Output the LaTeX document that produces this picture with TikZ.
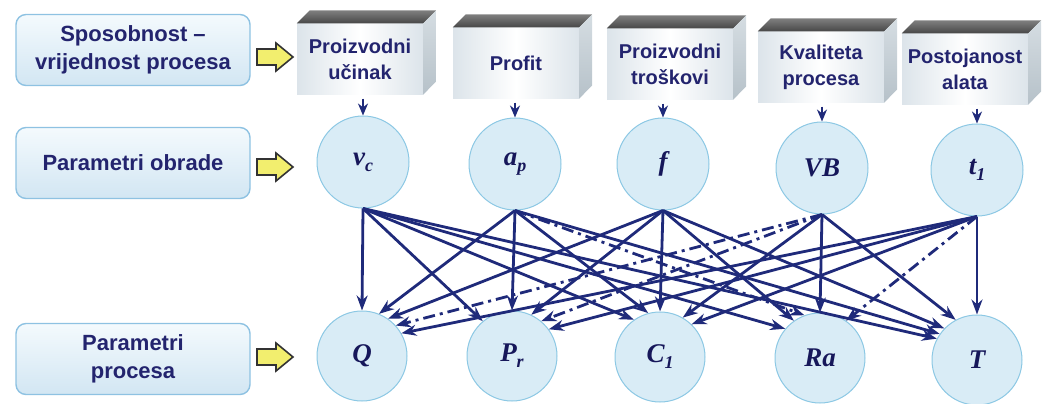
\documentclass[tikz,border=0pt]{standalone}
\usepackage{fontspec}
\setmainfont{Liberation Sans}
\newfontfamily\serifl{Liberation Serif}
\usetikzlibrary{arrows.meta,calc}
\definecolor{navy}{HTML}{1F2A7A}
\definecolor{txt}{HTML}{23246E}
\definecolor{lab}{HTML}{16175A}
\definecolor{cfill}{HTML}{D9ECF6}
\definecolor{cdraw}{HTML}{8CC8E4}
\definecolor{lbtop}{HTML}{F4FAFD}
\definecolor{lbbot}{HTML}{D2E6F3}
\definecolor{lbdraw}{HTML}{8EC2E2}
\definecolor{ylw}{HTML}{F2EE6E}
\definecolor{fedge}{HTML}{DCE4EA}
\definecolor{sidetop}{HTML}{D5DDE2}
\definecolor{sidebot}{HTML}{B6C1C9}
\newcommand\labf{\serifl\bfseries\itshape\fontsize{27}{27}\selectfont}
\newcommand\mysb[1]{\raisebox{-6pt}{\fontsize{18}{18}\selectfont #1}}
\tikzset{
  lbox/.style={rounded corners=10pt, draw=lbdraw, line width=1.4pt, top color=lbtop, bottom color=lbbot,
     minimum width=234pt, minimum height=71pt, align=center, text=txt,
     font=\bfseries\fontsize{22}{28}\selectfont},
  fbox/.style={minimum width=126pt, minimum height=71pt, inner sep=0pt, align=center, text=txt,
     left color=fedge, right color=fedge, middle color=white,
     font=\bfseries\fontsize{20}{26}\selectfont},
  cnode/.style={circle, draw=cdraw, line width=1pt, fill=cfill, inner sep=0pt, minimum size=92pt, text=lab, font=\labf},
  link/.style={draw=navy, line width=2.8pt, -{Stealth[length=15pt,width=11pt]}},
  dlink/.style={link, dash pattern=on 12pt off 5pt on 3pt off 5pt},
  sarrow/.style={draw=navy, line width=2.6pt, -{Stealth[length=12pt,width=10pt]}},
  yarrow/.style={fill=ylw, draw=black!80, line width=1.6pt, line join=miter},
  topface/.style={top color=black!50, bottom color=black!72},
  sideface/.style={top color=sidetop, bottom color=sidebot},
}
\begin{document}
\begin{tikzpicture}[x=1pt,y=-1pt]
\useasboundingbox (0,0) rectangle (1045,404);

% left label boxes
\node[lbox] (L1) at (133,50) {Sposobnost --\\vrijednost procesa};
\node[lbox] (L2) at (133,163) {Parametri obrade};
\node[lbox] (L3) at (133,359) {Parametri\\procesa};

% yellow block arrows
\foreach \yy in {57, 167, 357}{
  \draw[yarrow] (257,\yy-8) -- (276,\yy-8) -- (276,\yy-14) -- (293,\yy) -- (276,\yy+14) -- (276,\yy+8) -- (257,\yy+8) -- cycle;
}

% top 3D boxes
\foreach \nm/\xx/\yy/\tx in {B1/360/59/{Proizvodni\\učinak}, B2/516/63/{Profit}, B3/670/64/{Proizvodni\\troškovi}, B4/821/67/{Kvaliteta\\procesa}, B5/965/69/{Postojanost\\alata}}{
  \node[fbox] (\nm) at (\xx,\yy) {\tx};
  \shade[topface] (\nm.north west) -- ++(13,-13) -- ($(\nm.north east)+(13,-13)$) -- (\nm.north east) -- cycle;
  \shade[sideface] (\nm.north east) -- ++(13,-13) -- ++(0,71) -- (\nm.south east) -- cycle;
}

% parameter circles (top row)
\node[cnode] (vc) at (363,162) {v\mysb{c}};
\node[cnode] (ap) at (515,164) {a\mysb{p}};
\node[cnode] (f)  at (663,164) {f};
\node[cnode] (VB) at (822,168) {VB};
\node[cnode] (t1) at (977,170) {t\mysb{1}};

% process circles (bottom row)
\node[cnode, minimum size=90pt] (Q)  at (362,356) {Q};
\node[cnode, minimum size=90pt] (Pr) at (512,356) {P\mysb{r}};
\node[cnode, minimum size=90pt] (C1) at (660,357) {C\mysb{1}};
\node[cnode, minimum size=90pt] (Ra) at (820,358) {Ra};
\node[cnode, minimum size=90pt] (T)  at (977,360) {T};

% short arrows from boxes to circles
\foreach \b/\c in {B1/vc, B2/ap, B3/f, B4/VB, B5/t1}{
  \draw[sarrow] ($(\b.south -| \c.north)+(0,4)$) -- (\c.north);
}

% network
\draw[link] (vc.south) -- (Q.90);
\draw[link] (vc.south) -- (Pr.130);
\draw[link] (vc.south) -- (C1.125);
\draw[link] (vc.south) -- (Ra.140);
\draw[link] (vc.south) -- (T.152);

\draw[link] (ap.south) -- (Q.68);
\draw[link] (ap.south) -- (Pr.90);
\draw[link] (ap.south) -- (C1.105);
\draw[dlink] (ap.south) -- (Ra.110);
\draw[link] (ap.south) -- (T.145);

\draw[link] (f.south) -- (Q.55);
\draw[link] (f.south) -- (Pr.65);
\draw[link] (f.south) -- (C1.90);
\draw[link] (f.south) -- (Ra.125);
\draw[link] (f.south) -- (T.136);

\draw[dlink] (VB.south) -- (Q.42);
\draw[dlink] (VB.south) -- (Pr.50);
\draw[link] (VB.south) -- (C1.60);
\draw[link] (VB.south) -- (Ra.90);
\draw[link] (VB.south) -- (T.118);

\draw[link] (t1.south) -- (Q.30);
\draw[link] (t1.south) -- (Pr.36);
\draw[link] (t1.south) -- (C1.46);
\draw[dlink] (t1.south) -- (Ra.55);
\draw[link] (t1.south) -- (T.90);
\end{tikzpicture}
\end{document}
